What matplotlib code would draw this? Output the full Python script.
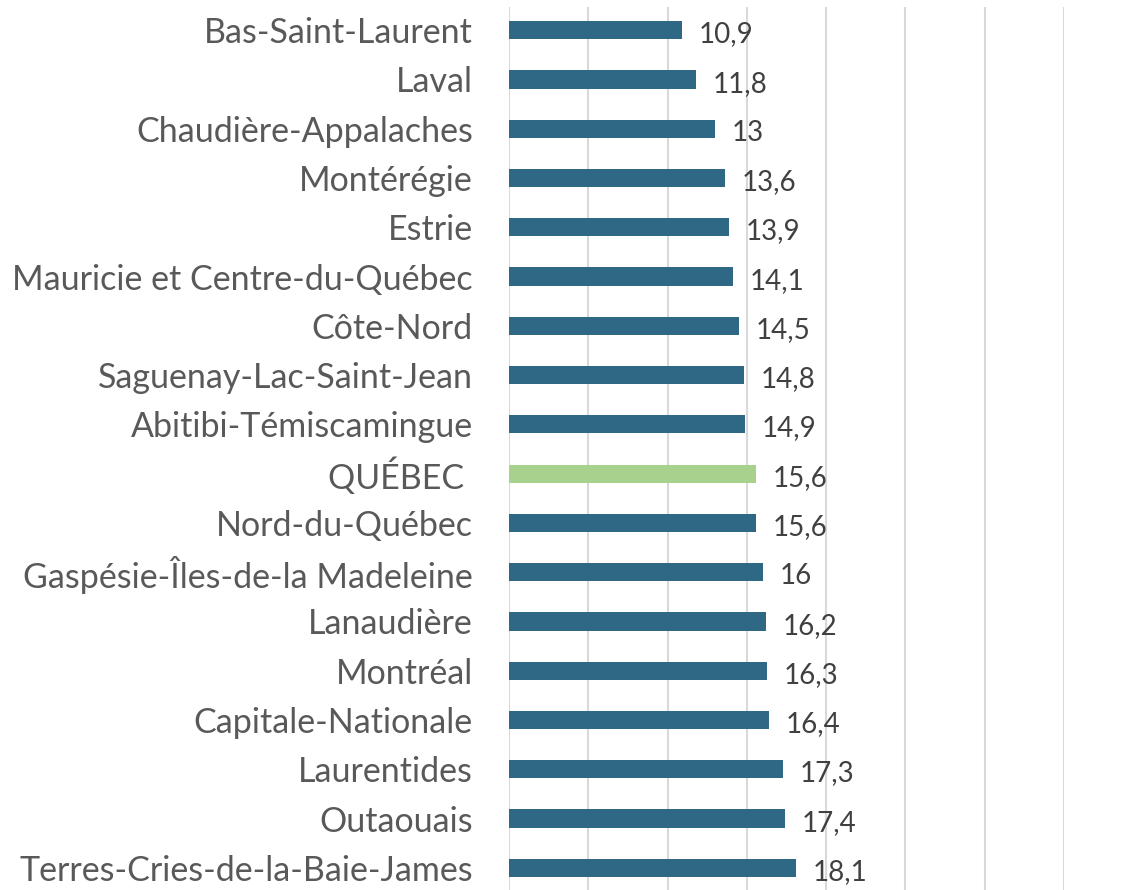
import matplotlib.pyplot as plt

regions = ['Bas-Saint-Laurent', 'Laval', 'Chaudière-Appalaches', 'Montérégie',
           'Estrie', 'Mauricie et Centre-du-Québec', 'Côte-Nord',
           'Saguenay-Lac-Saint-Jean', 'Abitibi-Témiscamingue', 'QUÉBEC ',
           'Nord-du-Québec', 'Gaspésie-Îles-de-la Madeleine', 'Lanaudière',
           'Montréal', 'Capitale-Nationale', 'Laurentides', 'Outaouais',
           'Terres-Cries-de-la-Baie-James']
values = [10.9, 11.8, 13, 13.6, 13.9, 14.1, 14.5, 14.8, 14.9, 15.6,
          15.6, 16, 16.2, 16.3, 16.4, 17.3, 17.4, 18.1]
value_labels = ['10,9', '11,8', '13', '13,6', '13,9', '14,1', '14,5', '14,8',
                '14,9', '15,6', '15,6', '16', '16,2', '16,3', '16,4', '17,3',
                '17,4', '18,1']

blue = '#2E6885'
green = '#A9D18E'
colors = [green if r.strip() == 'QUÉBEC' else blue for r in regions]

plt.rcParams['font.family'] = ['Lato', 'DejaVu Sans']

fig = plt.figure(figsize=(11.24, 8.9), dpi=100)
ax = fig.add_axes([509 / 1124, 0.0, (1064 - 509) / 1124, 1 - 7 / 890])

ypos = list(range(len(regions)))
ax.barh(ypos, values, height=0.37, color=colors, zorder=3)

for y, v, lab in zip(ypos, values, value_labels):
    ax.annotate(lab, (v, y), xytext=(12, -3), textcoords='offset points',
                ha='left', va='center', fontsize=20, color='#404040')

ax.set_xlim(0, 35)
ax.set_ylim(17.45, -0.47)
ax.set_xticks(range(0, 36, 5))
ax.set_xticklabels([])
ax.grid(axis='x', color='#D9D9D9', linewidth=1.5, zorder=0)
ax.tick_params(axis='x', length=0)
ax.set_yticks(ypos)
ax.set_yticklabels(regions, fontsize=24.5, color='#595959')
ax.tick_params(axis='y', length=0, pad=26)
for s in ax.spines.values():
    s.set_visible(False)

fig.savefig('out.png', dpi=100)
